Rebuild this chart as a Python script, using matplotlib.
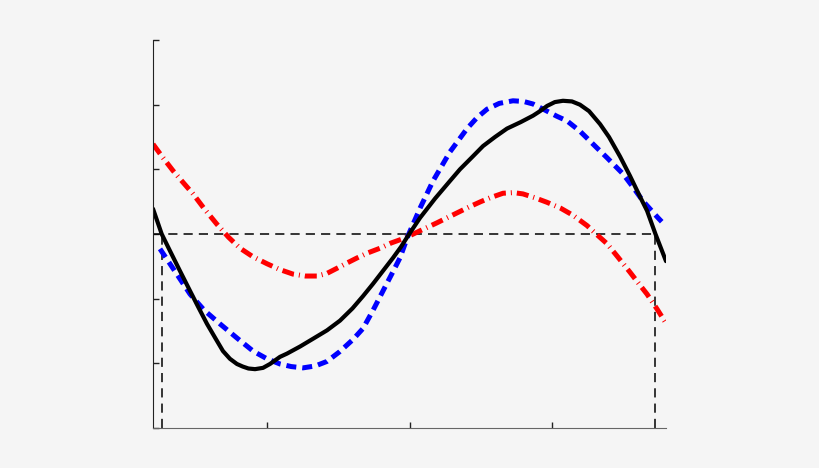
import matplotlib
matplotlib.use("Agg")
import matplotlib.pyplot as plt

# ---- data ----
black_x = [0.2, 0.261, 0.319, 0.389, 0.460, 0.520, 0.579, 0.640, 0.691, 0.740, 0.789, 0.830,
           0.870, 0.916, 0.972, 1.021, 1.091, 1.140, 1.232, 1.323, 1.421, 1.512, 1.600, 1.674,
           1.744, 1.814, 1.884, 1.940, 1.989, 2.074, 2.180, 2.284, 2.354, 2.440, 2.516, 2.600,
           2.684, 2.780, 2.867, 2.916, 2.965, 3.020, 3.077, 3.140, 3.196, 3.260, 3.337, 3.400,
           3.477, 3.547, 3.617, 3.667, 3.726, 3.8]
black_y = [0.39, 0.0, -0.26, -0.57, -0.88, -1.14, -1.39, -1.62, -1.81, -1.93, -2.01, -2.05,
           -2.08, -2.09, -2.07, -2.01, -1.90, -1.85, -1.74, -1.62, -1.49, -1.34, -1.15, -0.96,
           -0.77, -0.57, -0.37, -0.20, -0.03, 0.25, 0.55, 0.82, 1.00, 1.19, 1.36, 1.50,
           1.63, 1.73, 1.83, 1.90, 1.98, 2.04, 2.06, 2.05, 2.00, 1.90, 1.70, 1.50,
           1.20, 0.90, 0.58, 0.36, 0.0, -0.42]

blue_x = [0.249, 0.340, 0.460, 0.560, 0.670, 0.790, 0.902, 1.000, 1.091, 1.170, 1.253, 1.340,
          1.421, 1.510, 1.604, 1.674, 1.744, 1.814, 1.880, 1.933, 1.989, 2.074, 2.165, 2.284,
          2.404, 2.474, 2.544, 2.630, 2.726, 2.800, 2.867, 2.965, 3.035, 3.105, 3.196, 3.316,
          3.386, 3.498, 3.570, 3.638, 3.744, 3.770]
blue_y = [-0.23, -0.53, -0.93, -1.18, -1.39, -1.61, -1.81, -1.93, -2.01, -2.05, -2.07, -2.04,
          -1.97, -1.82, -1.63, -1.46, -1.18, -0.88, -0.60, -0.37, -0.03, 0.40, 0.82, 1.27,
          1.63, 1.80, 1.93, 2.02, 2.06, 2.05, 2.01, 1.90, 1.82, 1.75, 1.59, 1.33,
          1.18, 0.93, 0.72, 0.51, 0.25, 0.19]

red_x = [0.2, 0.270, 0.340, 0.410, 0.481, 0.560, 0.649, 0.730, 0.811, 0.900, 1.000, 1.090,
         1.182, 1.270, 1.351, 1.420, 1.491, 1.560, 1.632, 1.710, 1.793, 1.870, 1.970, 2.074,
         2.190, 2.300, 2.420, 2.500, 2.565, 2.656, 2.730, 2.796, 2.880, 2.965, 3.060, 3.147,
         3.246, 3.300, 3.386, 3.460, 3.547, 3.610, 3.667, 3.737, 3.8]
red_y = [1.39, 1.18, 0.98, 0.80, 0.62, 0.39, 0.15, -0.05, -0.22, -0.35, -0.46, -0.55,
         -0.62, -0.65, -0.65, -0.61, -0.53, -0.45, -0.37, -0.29, -0.22, -0.14, -0.06, 0.05,
         0.17, 0.29, 0.42, 0.50, 0.56, 0.63, 0.64, 0.62, 0.56, 0.49, 0.40, 0.29,
         0.13, 0.02, -0.15, -0.35, -0.59, -0.77, -0.93, -1.16, -1.38]

zero_left = 0.261
zero_right = 3.726
x_ticks = [1, 2, 3]
y_ticks = [-3, -2, -1, 0, 1, 2, 3]

bg = "#f5f5f5"
fig = plt.figure(figsize=(8.2, 4.68), dpi=100, facecolor=bg)
ax = fig.add_axes([153 / 820, 1 - 428 / 468, (666 - 153) / 820, (428 - 40) / 468])
ax.set_facecolor(bg)

# reference dashed lines
ax.plot([0.2, zero_right], [0, 0], color="black", lw=1.1, dashes=(6, 4))
ax.plot([zero_left, zero_left], [-3, 0], color="black", lw=1.1, dashes=(6, 4))
ax.plot([zero_right, zero_right], [-3, 0], color="black", lw=1.1, dashes=(6, 4))

ax.plot(red_x, red_y, color="#ff0000", lw=3.6, dashes=(2.4, 1.0, 0.2, 1.0),
        solid_capstyle="butt", dash_capstyle="butt", solid_joinstyle="round")
ax.plot(blue_x, blue_y, color="#0000ff", lw=3.6, dashes=(2.0, 1.2),
        dash_capstyle="butt", dash_joinstyle="round")
ax.plot(black_x, black_y, color="black", lw=3.0, solid_capstyle="round",
        solid_joinstyle="round")

ax.set_xlim(0.2, 3.8)
ax.set_ylim(-3, 3)
ax.set_xticks(x_ticks)
ax.set_yticks(y_ticks)
ax.set_xticklabels([])
ax.set_yticklabels([])
ax.tick_params(direction="in", length=4, width=1, colors="#222222")
for s in ["top", "right"]:
    ax.spines[s].set_visible(False)
ax.spines["left"].set_color("#222222")
ax.spines["bottom"].set_color("#666666")

fig.savefig("out.png", dpi=100, facecolor=bg)
